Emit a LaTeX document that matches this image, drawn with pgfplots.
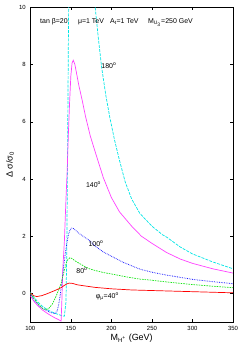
\documentclass[border=0pt]{standalone}
\usepackage{fontspec}
\setmainfont{Liberation Sans}
\usepackage{pgfplots}
\pgfplotsset{compat=1.18}
\usetikzlibrary{calc}
\definecolor{ccyan}{rgb}{0,0.9,0.9}
\definecolor{cmag}{rgb}{1,0.25,1}
\definecolor{cblue}{rgb}{0.1,0.1,1}
\definecolor{cgreen}{rgb}{0.1,0.9,0.1}
\definecolor{cred}{rgb}{1,0,0}
\begin{document}
\begin{tikzpicture}
\begin{axis}[
  width=202.7bp, height=314.7bp, scale only axis,
  xmin=100, xmax=350, ymin=-1, ymax=10,
  xtick={100,150,200,250,300,350},
  ytick={0,2,4,6,8,10},
  tick align=inside, major tick length=3bp,
  tick style={black, line width=0.4pt},
  axis line style={line width=0.6pt},
  tick label style={font=\fontsize{6}{7}\selectfont},
  /pgf/number format/assume math mode=true,
  xticklabel style={yshift=-1bp},
  yticklabel style={xshift=-1bp},
  xlabel={M\textsubscript{H\textsuperscript{+}} (GeV)},
  ylabel={Δ σ/σ\textsubscript{0}},
  label style={font=\fontsize{9}{10}\selectfont},
  xlabel style={at={(axis description cs:0.5,0)}, anchor=north, yshift=-8bp},
  ylabel style={at={(axis description cs:-0.1,0.5)}, anchor=center},
  every axis plot/.append style={line width=0.7pt},
]
% cyan 180
\addplot[ccyan, dash pattern=on 3pt off 1.2pt] coordinates {
(100,0.05) (105,-0.15) (110,-0.32) (115,-0.45) (120,-0.55) (125,-0.63) (130,-0.69) (135,-0.74) (139,-0.78) (142,-0.8) (144,-0.3) (145,1.5) (146,5) (147,9) (148,12) (150,13.5) (160,15) (170,13) (175,11.3) (180,10) (184,8.9) (188,7.9) (193,6.95) (198,6.16) (204,5.35) (210,4.65) (217,3.9) (225,3.3) (235,2.8) (250,2.35) (263,2.05) (268,1.97) (285,1.62) (300,1.38) (325,1.1) (350,0.86)};
% magenta 140
\addplot[cmag] coordinates {
(100,-0.08) (105,-0.3) (110,-0.45) (115,-0.58) (120,-0.68) (125,-0.77) (130,-0.85) (135,-0.92) (138,-0.97) (139,-0.2) (140,0.8) (142,1.8) (144,3.3) (145.5,4.3) (147,5.6) (148.5,6.7) (150,7.6) (151.5,8.05) (153,8.15) (155,8.0) (157,7.7) (160,7.25) (164,6.75) (168,6.2) (174,5.5) (180,4.95) (190,4.05) (200,3.35) (210,2.85) (225,2.35) (237,2.0) (250,1.75) (268,1.43) (285,1.2) (300,1.05) (325,0.86) (350,0.71)};
% blue 100
\addplot[cblue, densely dotted, line width=0.8pt] coordinates {
(100,-0.02) (105,-0.25) (110,-0.4) (115,-0.52) (120,-0.6) (125,-0.67) (130,-0.7) (133,-0.62) (135,-0.4) (137,-0.05) (139,0.4) (141,0.9) (143,1.35) (145,1.75) (147,2.05) (149,2.22) (151,2.28) (153,2.27) (156,2.2) (160,2.1) (166,1.98) (173,1.85) (180,1.65) (190,1.45) (200,1.3) (215,1.08) (235,0.85) (250,0.74) (268,0.64) (300,0.49) (325,0.41) (350,0.34)};
% green 80
\addplot[cgreen, dash pattern=on 1.6pt off 1pt] coordinates {
(100,0) (105,-0.2) (110,-0.38) (115,-0.52) (119,-0.57) (123,-0.52) (127,-0.38) (131,-0.15) (135,0.12) (138,0.35) (141,0.7) (144,1.02) (146,1.17) (149,1.25) (152,1.21) (155,1.14) (161,1.04) (167,0.94) (173,0.86) (180,0.8) (190,0.73) (200,0.68) (220,0.57) (235,0.5) (250,0.46) (268,0.4) (300,0.31) (325,0.25) (350,0.2)};
% red 40
\addplot[cred] coordinates {
(100,0.02) (104,-0.08) (108,-0.11) (114,-0.08) (120,-0.02) (126,0.05) (132,0.12) (138,0.2) (142,0.28) (145,0.33) (148,0.36) (152,0.35) (158,0.3) (165,0.27) (180,0.21) (200,0.16) (225,0.12) (250,0.1) (275,0.08) (300,0.06) (325,0.04) (350,0.02)};
% annotations
\begin{scope}[every node/.style={font=\fontsize{7}{8}\selectfont, inner sep=0pt}]
\node[anchor=base west] at (axis cs:112,9.43) {tan β=20};
\node[anchor=base west] at (axis cs:158.7,9.43) {μ=1 TeV};
\node[anchor=base west] at (axis cs:198.2,9.43) {A\textsubscript{t}=1 TeV};
\node[anchor=base west] at (axis cs:245,9.43) {M\textsubscript{U\textsubscript{3}}=250 GeV};
\node at (axis cs:197,7.95) {180\textsuperscript{o}};
\node at (axis cs:178,3.8) {140\textsuperscript{o}};
\node at (axis cs:181,1.74) {100\textsuperscript{o}};
\node at (axis cs:163.7,0.78) {80\textsuperscript{o}};
\node at (axis cs:195,-0.1) {φ\textsubscript{μ}=40\textsuperscript{o}};
\end{scope}
\end{axis}
\path ($(current axis.south west)+(-30.3bp,-28bp)$) rectangle ($(current axis.north east)+(12bp,7.3bp)$);
\end{tikzpicture}
\end{document}
